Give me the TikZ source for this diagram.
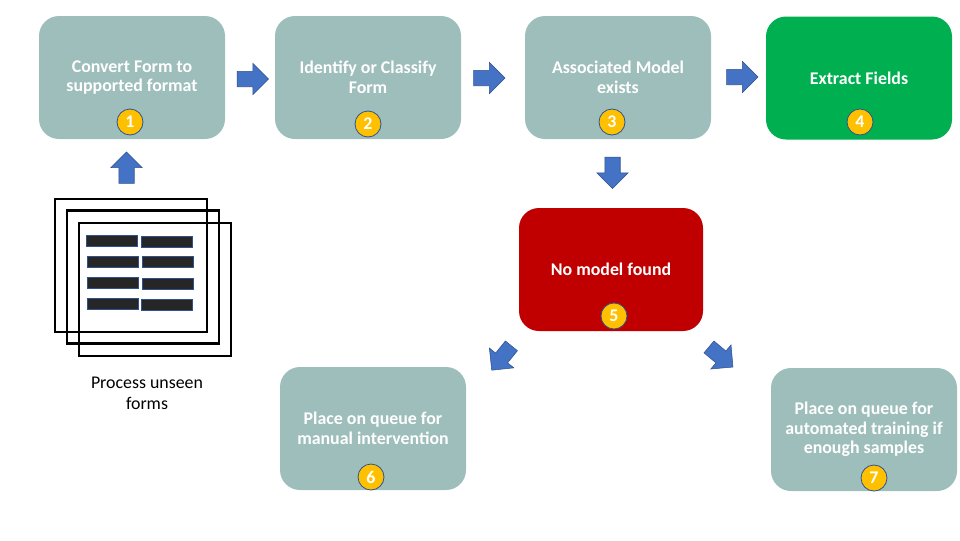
\documentclass[tikz,border=0pt]{standalone}
\usepackage{fontspec}
\setmainfont{Carlito}
\usetikzlibrary{shapes.arrows}
\definecolor{stepteal}{HTML}{9DBEBB}
\definecolor{stepgreen}{HTML}{00B050}
\definecolor{stepred}{HTML}{C00000}
\definecolor{badgegold}{HTML}{FFC000}
\definecolor{arrowblue}{HTML}{4472C4}
\definecolor{edgeblue}{HTML}{2F528F}
\definecolor{bardark}{HTML}{262626}
\begin{document}
\begin{tikzpicture}[x=0.75pt, y=-0.75pt, line join=miter,
    stepbox/.style={rounded corners=15pt, minimum width=139.5pt, minimum height=92.25pt,
      inner sep=2pt, align=center, text=white, font=\fontsize{13.4}{14.6}\selectfont\bfseries},
    badge/.style={circle, draw=edgeblue, fill=badgegold, line width=0.6pt, minimum size=19.5pt,
      inner sep=0pt, text=white, font=\fontsize{13.4}{14}\selectfont\bfseries},
    blockarrow/.style={single arrow, draw=edgeblue, fill=arrowblue, line width=0.4pt,
      inner xsep=0pt, inner ysep=5.6pt, text height=0pt, text depth=0pt, text width=0pt,
      minimum height=23.5pt, single arrow head extend=6pt, single arrow tip angle=90},
    sheet/.style={draw=black, line width=2pt, minimum width=114pt, minimum height=99.75pt, inner sep=0pt},
    bar/.style={draw=edgeblue, fill=bardark, line width=0.5pt, minimum width=38pt, minimum height=8pt, inner sep=0pt}]
  \useasboundingbox (0,0) rectangle (960,540);
  % top row
  \node[stepbox, fill=stepteal] (convert) at (132,77.5) {Convert Form to\\supported format};
  \node[stepbox, fill=stepteal] (identify) at (368,77.5) {Identify or Classify\\Form};
  \node[stepbox, fill=stepteal] (model) at (618,77.5) {Associated Model\\exists};
  \node[stepbox, fill=stepgreen] (extract) at (859,78) {Extract Fields};
  % failure path
  \node[stepbox, fill=stepred, minimum width=138pt] (nomodel) at (611,269.5) {No model found};
  \node[stepbox, fill=stepteal] (manual) at (373,428.5) {Place on queue for\\manual intervention};
  \node[stepbox, fill=stepteal] (auto) at (864,429.5) {Place on queue for\\automated training if\\enough samples};
  % numbers
  \node[badge] (n1) at (130,122) {1};
  \node[badge] (n2) at (368,124) {2};
  \node[badge] (n3) at (612,122) {3};
  \node[badge] (n4) at (860,122) {4};
  \node[badge] (n5) at (614,316) {5};
  \node[badge] (n6) at (371,477) {6};
  \node[badge] (n7) at (874,478) {7};
  % block arrows
  \node[blockarrow] (a12) at (249,79) {};
  \node[blockarrow] (a23) at (485.5,78) {};
  \node[blockarrow] (a34) at (738.5,77) {};
  \node[blockarrow, rotate=90] (a01) at (126.5,171.5) {};
  \node[blockarrow, rotate=-90] (a35) at (612.5,169) {};
  \node[blockarrow, rotate=-129] (a56) at (504,355) {};
  \node[blockarrow, rotate=-40] (a57) at (718,354.5) {};
  % stacked forms
  \node[sheet] (sheet1) at (131,265.5) {};
  \node[sheet] (sheet2) at (143,277) {};
  \node[sheet] (sheet3) at (155,289.5) {};
  \node[bar] (bar1) at (111.5,241) {};
  \node[bar] (bar2) at (112.5,261.5) {};
  \node[bar] (bar3) at (112.5,282.5) {};
  \node[bar] (bar4) at (112.5,303.5) {};
  \node[bar] (bar5) at (166.5,241.5) {};
  \node[bar] (bar6) at (167.5,261.5) {};
  \node[bar] (bar7) at (167.5,283.5) {};
  \node[bar] (bar8) at (167,304.5) {};
  \node[align=center, inner sep=0pt, font=\fontsize{13.4}{15.5}\selectfont] (caption) at (147,393) {Process unseen\\forms};
\end{tikzpicture}
\end{document}
